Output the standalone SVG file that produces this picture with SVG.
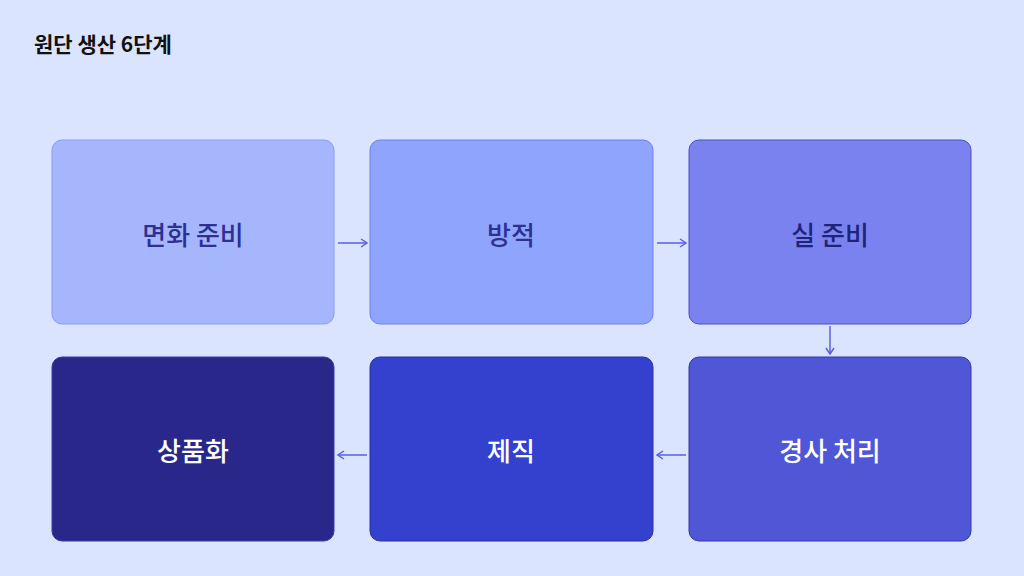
<svg xmlns="http://www.w3.org/2000/svg" width="1024" height="576" viewBox="0 0 1024 576">
<defs>
<style>
.box{stroke-width:1}
.lbl{font-family:"Noto Sans CJK KR","Noto Sans",sans-serif;font-size:26px;font-weight:500;text-anchor:middle;dominant-baseline:central}
.con{stroke:#5a5fe0;stroke-width:1.5;fill:none;marker-end:url(#ah)}
</style>
<marker id="ah" viewBox="0 0 10 10" refX="9" refY="5" markerWidth="10" markerHeight="10" markerUnits="userSpaceOnUse" orient="auto"><path d="M3,1 L9,5 L3,9" fill="none" stroke="#5a5fe0" stroke-width="1.5"/></marker>
</defs>
<rect width="1024" height="576" fill="#dbe4fe"/>
<text x="34" y="52" font-family="'Noto Sans CJK KR',sans-serif" font-size="21" font-weight="700" fill="#111">원단 생산 6단계</text>
<g id="n1"><rect class="box" x="52" y="140" width="282" height="184" rx="10" fill="#a5b6fd" stroke="#8a9cf8"/><text class="lbl" x="193" y="233" fill="#2e3192">면화 준비</text></g>
<g id="n2"><rect class="box" x="370" y="140" width="283" height="184" rx="10" fill="#8fa5fd" stroke="#6f80ec"/><text class="lbl" x="511" y="233" fill="#2e3192">방적</text></g>
<g id="n3"><rect class="box" x="689" y="140" width="282" height="184" rx="10" fill="#7a82f0" stroke="#4b4fc0"/><text class="lbl" x="830" y="233" fill="#1f237a">실 준비</text></g>
<g id="n4"><rect class="box" x="689" y="357" width="282" height="184" rx="10" fill="#4f57d7" stroke="#3438a8"/><text class="lbl" x="830" y="449" fill="#fff">경사 처리</text></g>
<g id="n5"><rect class="box" x="370" y="357" width="283" height="184" rx="10" fill="#3441cf" stroke="#2a30a0"/><text class="lbl" x="511" y="449" fill="#fff">제직</text></g>
<g id="n6"><rect class="box" x="52" y="357" width="282" height="184" rx="10" fill="#29288a" stroke="#3a3aa8"/><text class="lbl" x="193" y="449" fill="#fff">상품화</text></g>
<g id="connectors">
<path class="con" d="M338,243 H367"/>
<path class="con" d="M657,243 H686"/>
<path class="con" d="M830,326 V354"/>
<path class="con" d="M686,455 H657"/>
<path class="con" d="M367,455 H338"/>
</g>
</svg>
